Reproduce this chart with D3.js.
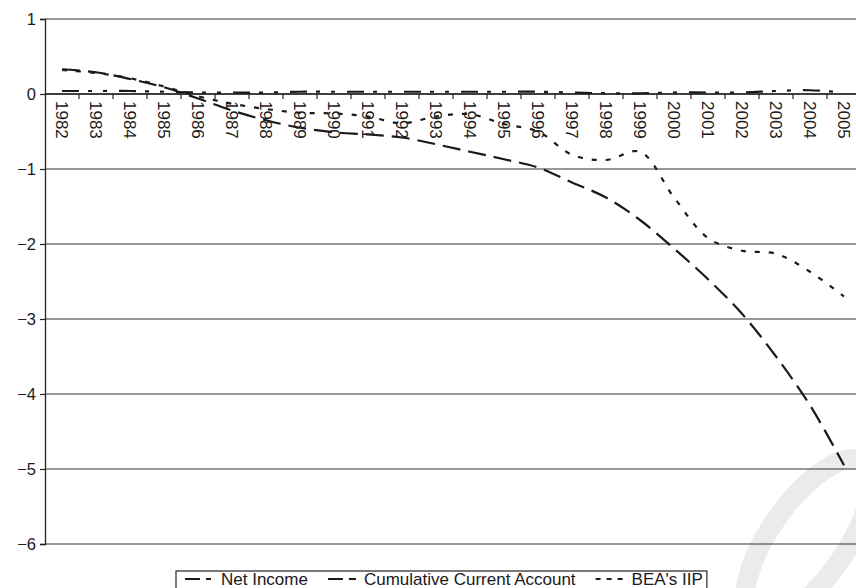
<!DOCTYPE html>
<html>
<head>
<meta charset="utf-8">
<script src="https://cdn.jsdelivr.net/npm/d3@7/dist/d3.min.js"></script>
<style>
  html, body { margin: 0; padding: 0; background: #fff; }
  svg { display: block; }
  text { font-family: "Liberation Sans", Arial, Helvetica, sans-serif; fill: #1a1a1a; }
</style>
</head>
<body>
<svg id="chart" width="856" height="588"></svg>
<script>
const years = ["1982","1983","1984","1985","1986","1987","1988","1989","1990","1991","1992","1993",
               "1994","1995","1996","1997","1998","1999","2000","2001","2002","2003","2004","2005"];
const netIncome = [0.04,0.04,0.04,0.03,0.02,0.02,0.02,0.03,0.03,0.03,0.03,0.03,
                   0.03,0.03,0.03,0.02,0.01,0.01,0.02,0.02,0.02,0.04,0.05,0.02];
const cumulativeCA = [0.33,0.29,0.2,0.09,-0.06,-0.22,-0.35,-0.45,-0.51,-0.54,-0.58,-0.67,
                      -0.77,-0.87,-0.98,-1.18,-1.38,-1.68,-2.06,-2.47,-2.93,-3.5,-4.15,-4.95];
const beaIIP = [0.32,0.28,0.21,0.1,-0.03,-0.13,-0.2,-0.25,-0.26,-0.3,-0.39,-0.3,
                -0.27,-0.4,-0.5,-0.81,-0.88,-0.77,-1.38,-1.92,-2.09,-2.13,-2.37,-2.7];
const yTicks = [1,0,-1,-2,-3,-4,-5,-6];
const seriesNames = ["Net Income","Cumulative Current Account","BEA's IIP"];

const svg = d3.select("#chart");
const plotLeft = 45, plotTop = 19, bandW = 34;
const x = d3.scaleBand().domain(years).range([plotLeft, plotLeft + bandW * years.length]).paddingInner(0).paddingOuter(0);
const y = d3.scaleLinear().domain([-6, 1]).range([plotTop + 525, plotTop]);

// watermark (faint)
svg.append("ellipse").attr("cx", 808).attr("cy", 540).attr("rx", 38).attr("ry", 95)
  .attr("transform", "rotate(35,808,540)")
  .attr("fill", "none").attr("stroke", "#ebebeb").attr("stroke-width", 20);

// gridlines
svg.append("g").selectAll("line").data(yTicks).join("line")
  .attr("x1", plotLeft).attr("x2", 860)
  .attr("y1", d => y(d)).attr("y2", d => y(d))
  .attr("stroke", "#333").attr("stroke-width", 1.2);

// y axis
const yAxis = d3.axisLeft(y).tickValues(yTicks).tickSize(5).tickPadding(4)
  .tickFormat(d => d < 0 ? "\u2212" + Math.abs(d) : String(d));
const gy = svg.append("g").attr("transform", `translate(${plotLeft},0)`).call(yAxis);
gy.select(".domain").attr("stroke", "#222").attr("stroke-width", 1.3);
gy.selectAll(".tick line").attr("stroke", "#222").attr("stroke-width", 1.2);
gy.selectAll("text").attr("font-size", 16.5).attr("fill", "#1a1a1a").attr("font-family", "Liberation Sans, Arial, sans-serif");

// x axis at zero: ticks at band boundaries
const boundaries = years.map((d, i) => plotLeft + bandW * (i + 1));
svg.append("g").selectAll("line").data(boundaries).join("line")
  .attr("x1", d => d).attr("x2", d => d)
  .attr("y1", y(0)).attr("y2", y(0) + 5)
  .attr("stroke", "#222").attr("stroke-width", 1.2);
svg.append("line").attr("x1", plotLeft).attr("x2", 860).attr("y1", y(0)).attr("y2", y(0))
  .attr("stroke", "#222").attr("stroke-width", 1.3);

// year labels rotated
svg.append("g").selectAll("text").data(years).join("text")
  .attr("transform", d => `translate(${x(d) + x.bandwidth() / 2},${y(0) + 7}) rotate(90)`)
  .attr("dy", "0.35em")
  .attr("font-size", 17)
  .text(d => d);

// lines
const cx = d => x(d) + x.bandwidth() / 2;
const lineGen = d3.line().x(d => cx(d[0])).y(d => y(d[1])).curve(d3.curveCatmullRom.alpha(0.5));
const series = [
  { vals: netIncome, dash: "17,9,4,11,4,12" },
  { vals: cumulativeCA, dash: "18,8" },
  { vals: beaIIP, dash: "5,9" }
];
series.forEach(s => {
  svg.append("path")
    .datum(years.map((yr, i) => [yr, s.vals[i]]))
    .attr("d", lineGen)
    .attr("fill", "none")
    .attr("stroke", "#1a1a1a")
    .attr("stroke-width", 2.2)
    .attr("stroke-dasharray", s.dash);
});

// legend
const lg = svg.append("g");
const legendDash = ["15,6,5,20", "15,6,9,20", "5,6"];
let cur = 185;
const lgY = 579;
seriesNames.forEach((name, i) => {
  lg.append("line").attr("x1", cur).attr("x2", cur + 28).attr("y1", lgY).attr("y2", lgY)
    .attr("stroke", "#1a1a1a").attr("stroke-width", 2.2).attr("stroke-dasharray", legendDash[i]);
  const t = lg.append("text").attr("x", cur + 36).attr("y", lgY).attr("dy", "0.36em")
    .attr("font-size", 17).text(name);
  const w = t.node().getComputedTextLength();
  cur = cur + 36 + w + 20;
});
lg.insert("rect", ":first-child")
  .attr("x", 176).attr("y", 571).attr("width", cur - 20 + 4 - 176).attr("height", 30)
  .attr("fill", "#fff").attr("stroke", "#222").attr("stroke-width", 1.2);
</script>
</body>
</html>
